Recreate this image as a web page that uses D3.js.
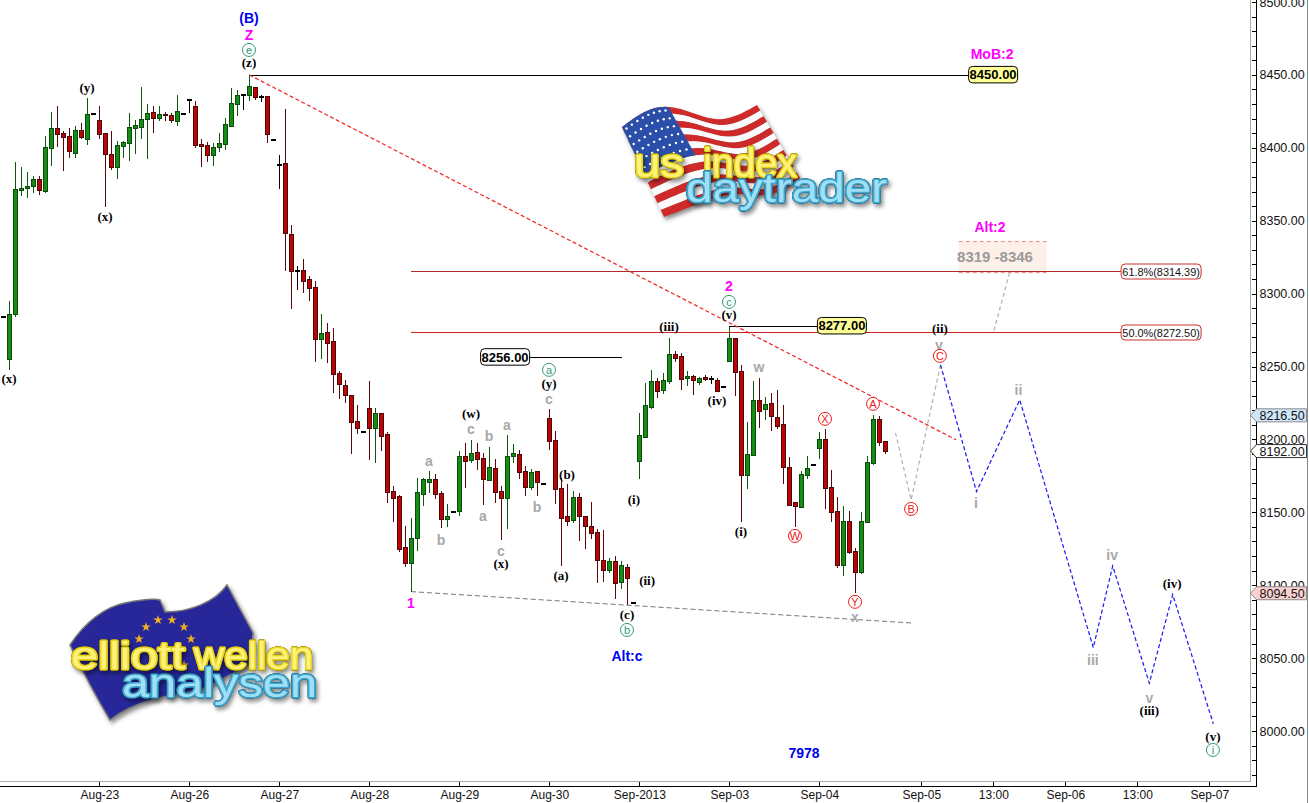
<!DOCTYPE html>
<html>
<head>
<meta charset="utf-8">
<title>Elliott wave chart</title>
<script src="https://cdn.jsdelivr.net/npm/d3@7"></script>
<style>
	html, body { margin: 0; padding: 0; background: #fff; overflow: hidden; }
	svg { display: block; }
	text { font-family: "Liberation Sans", Arial, sans-serif; }
	.wave-black { font-family: "Liberation Serif", serif; font-weight: bold; font-size: 13px; fill: #000; }
	.wave-gray { font-weight: bold; font-size: 14px; fill: #a8a8a8; }
	.wave-magenta { font-weight: bold; font-size: 14px; fill: #ff00ff; }
	.wave-blue { font-weight: bold; font-size: 14px; fill: #0000f0; }
	.logo-shadow { filter: drop-shadow(2px 3px 2px rgba(0, 0, 0, 0.45)); }
</style>
</head>
<body>
<svg id="chart" width="1309" height="803"></svg>
<script>
'use strict';

// candles, one entry per 4h bar
var opens = [
	8284.2,8255.4,8285.9,8370.8,8372.5,8373.9,8378.7,8370.4,8400.0,8413.6,
	8410.2,8408.2,8396.5,8412.3,8406.1,8423.3,8419.1,8410.2,8395.8,8386.9,
	8401.3,8403.4,8413.6,8414.3,8419.8,8424.6,8420.5,8423.3,8422.6,8418.4,
	8423.3,8432.9,8428.7,8402.7,8402.0,8395.1,8400.6,8402.7,8415.0,8430.1,
	8435.9,8436.3,8441.8,8434.9,8435.6,8405.4,8388.3,8389.6,8340.9,8315.8,
	8316.3,8310.1,8304.6,8269.1,8273.7,8267.6,8245.6,8237.4,8230.5,8212.7,
	8205.1,8221.6,8208.1,8218.2,8203.8,8164.7,8161.2,8126.3,8115.5,8132.6,
	8162.8,8171.0,8172.9,8163.3,8145.7,8150.3,8151.2,8188.7,8186.0,8191.4,
	8187.3,8172.4,8180.5,8164.7,8160.1,8188.5,8190.0,8178.4,8167.6,8178.4,
	8169.7,8214.8,8199.7,8166.7,8147.3,8145.0,8160.6,8147.3,8140.7,8136.6,
	8117.4,8110.7,8116.7,8101.8,8112.6,8087.9,8185.3,8201.9,8222.5,8240.1,
	8234.1,8240.3,8258.6,8257.3,8242.4,8243.5,8239.4,8242.9,8241.7,8240.8,
	8236.0,8253.8,8269.6,8247.0,8175.9,8189.6,8227.1,8220.9,8225.0,8215.4,
	8210.6,8181.1,8157.1,8153.9,8175.7,8182.5,8194.2,8200.4,8167.4,8151.0,
	8113.9,8144.1,8123.5,8109.1,8143.6,8183.9,8214.1,8199.0
];
var highs = [
	8284.2,8295.0,8390.3,8386.9,8383.5,8380.7,8380.7,8408.2,8424.6,8428.7,
	8411.6,8413.6,8415.0,8417.1,8434.2,8423.3,8428.7,8410.2,8411.6,8404.7,
	8404.7,8423.9,8419.1,8441.8,8430.1,8428.7,8428.7,8424.6,8423.9,8436.3,
	8423.3,8433.5,8432.2,8406.1,8404.0,8403.4,8410.2,8420.5,8441.1,8439.7,
	8437.0,8450.0,8441.8,8436.3,8435.6,8405.4,8395.1,8426.7,8347.1,8319.0,
	8323.8,8312.1,8308.7,8286.1,8279.9,8276.5,8247.0,8240.8,8230.5,8223.7,
	8205.1,8240.1,8221.6,8218.2,8205.1,8168.1,8161.9,8140.7,8146.2,8173.6,
	8173.6,8178.4,8176.3,8164.7,8155.8,8150.3,8192.1,8197.6,8199.7,8197.6,
	8190.5,8194.9,8186.4,8168.1,8203.1,8196.9,8192.6,8181.8,8179.6,8178.4,
	8169.7,8220.9,8205.8,8173.4,8169.5,8164.7,8163.1,8147.5,8157.1,8138.6,
	8137.9,8118.5,8120.1,8116.7,8114.6,8087.9,8218.0,8238.8,8247.7,8242.2,
	8245.4,8269.6,8260.5,8259.1,8247.0,8244.2,8242.7,8244.2,8243.5,8242.0,
	8236.0,8277.0,8269.8,8251.1,8212.0,8240.1,8242.2,8229.1,8231.9,8234.0,
	8223.7,8188.0,8157.1,8178.4,8188.7,8182.5,8205.1,8207.2,8179.1,8160.6,
	8154.4,8151.0,8125.6,8150.3,8188.7,8216.5,8216.1,8199.0
];
var lows = [
	8284.2,8247.7,8284.2,8367.0,8365.6,8369.1,8367.7,8369.1,8387.6,8400.6,
	8384.2,8393.1,8393.1,8406.1,8402.0,8423.3,8406.1,8359.5,8384.8,8378.7,
	8393.1,8391.0,8395.8,8406.1,8392.4,8410.2,8418.4,8418.4,8417.1,8415.0,
	8423.3,8423.9,8400.0,8386.9,8390.3,8387.6,8397.2,8398.6,8414.3,8421.9,
	8426.0,8432.2,8432.9,8431.5,8403.4,8405.4,8371.8,8315.6,8289.5,8302.5,
	8300.5,8295.2,8253.4,8255.4,8252.7,8232.1,8228.0,8225.2,8190.3,8204.0,
	8205.1,8186.1,8184.1,8192.3,8156.7,8143.6,8123.0,8112.8,8095.6,8123.7,
	8154.4,8163.5,8159.4,8139.3,8140.2,8150.3,8147.5,8166.7,8183.9,8179.1,
	8155.1,8172.0,8156.4,8131.1,8138.6,8184.1,8173.1,8161.4,8165.6,8161.4,
	8169.7,8192.8,8156.0,8113.2,8140.9,8143.0,8130.6,8124.9,8131.8,8101.8,
	8102.3,8108.2,8090.8,8097.7,8086.7,8087.9,8173.1,8201.9,8220.9,8228.5,
	8231.2,8238.3,8253.2,8234.0,8236.7,8230.5,8237.4,8240.1,8238.1,8232.8,
	8236.0,8253.2,8229.8,8143.4,8166.0,8189.6,8207.9,8213.4,8205.8,8207.2,
	8169.5,8154.4,8140.0,8153.7,8172.9,8182.5,8186.6,8152.3,8143.4,8111.9,
	8106.4,8121.5,8094.5,8107.8,8143.6,8182.5,8195.5,8190.0
];
var closes = [
	8284.2,8286.1,8371.8,8372.5,8373.9,8378.7,8371.1,8400.6,8413.6,8409.5,
	8407.5,8397.9,8412.3,8407.5,8423.3,8423.3,8409.5,8395.8,8386.9,8402.0,
	8404.0,8414.3,8415.7,8419.8,8423.9,8420.5,8423.3,8422.6,8419.1,8425.3,
	8423.3,8432.9,8402.0,8401.3,8395.1,8400.6,8403.4,8416.4,8430.8,8436.3,
	8435.9,8442.5,8434.9,8434.9,8409.5,8405.4,8388.3,8341.6,8315.6,8315.8,
	8308.9,8303.9,8268.9,8273.0,8266.4,8245.1,8238.1,8230.7,8212.2,8208.1,
	8205.1,8207.9,8218.2,8202.6,8164.2,8160.1,8125.1,8115.5,8132.4,8164.0,
	8172.9,8172.9,8162.8,8145.7,8147.5,8150.3,8188.7,8185.5,8190.7,8186.8,
	8173.1,8181.1,8164.2,8159.7,8188.7,8190.7,8177.9,8167.6,8177.7,8171.0,
	8169.7,8199.2,8166.3,8146.4,8144.1,8160.6,8147.3,8140.2,8136.0,8117.6,
	8110.7,8116.7,8101.8,8113.7,8105.2,8087.9,8203.1,8223.7,8240.1,8233.5,
	8240.8,8258.6,8255.9,8241.7,8243.5,8240.8,8242.2,8241.3,8241.7,8233.5,
	8236.0,8269.6,8246.5,8175.9,8190.0,8227.1,8219.8,8224.4,8216.3,8209.3,
	8181.4,8155.1,8154.4,8176.3,8180.5,8182.5,8200.4,8166.7,8150.5,8114.1,
	8144.1,8123.0,8109.1,8144.1,8184.6,8214.1,8198.3,8192.3
];

// axis ticks: bar index on x, price on y
var xTickBars = [16, 31, 46, 61, 76, 91, 106, 121, 136, 153, 165, 177, 189, 201];
var xTickLabels = ['Aug-23', 'Aug-26', 'Aug-27', 'Aug-28', 'Aug-29', 'Aug-30', 'Sep-2013', 'Sep-03', 'Sep-04', 'Sep-05', '13:00', 'Sep-06', '13:00', 'Sep-07'];
var yMajorTicks = [8000, 8050, 8100, 8150, 8200, 8250, 8300, 8350, 8400, 8450, 8500];
var yMinorTicks = d3.range(7970, 8510, 10);

// trend lines and forecast paths as [bar, price]
var trendRed = [[41, 8450], [158.8, 8199.7]];
var trendGray = [[67.95, 8095.6], [151.3, 8074.1]];
var forecastGray = [[148.7, 8204.5], [151.3, 8158.5], [156.2, 8251.1]];
var forecastGrayUp = [[165.1, 8274.6], [167.7, 8314.2]];
var forecastBlue = [[156.2, 8251.1], [162.2, 8164.2], [169.4, 8227.1], [181.67, 8057.2], [184.9, 8113.2], [191, 8032.8], [194.9, 8093.6], [201.67, 8004.9]];

// horizontal levels
var fibPrices = [8315.4, 8273.5];
var fibLabels = ['61.8%(8314.39)', '50.0%(8272.50)'];
var fibBars = [67.95, 186.3];
var levelLabels = ['8450.00', '8256.00', '8277.00'];
var levelPrices = [8450, 8256.4, 8277.8];
var levelStart = [41, 103.1, 121];
var levelEnd = [160.8, 87.8, 135.6];
var levelFill = ['#ffff99', '#fff', '#ffff99'];

var zoneBars = [159.25, 173.9];
var zonePrices = [8335.7, 8314.4];

// price tags on the axis
var tagPrices = [8216.5, 8192, 8094.5];
var tagFill = ['#cfe6fa', '#fff', '#fbd0d0'];
var tagStroke = ['#8a8a8a', '#333', '#8a8a8a'];

// wave labels as [text, bar, price]
var wavesBlack = [
	['(z)', 40.95, 8458.2], ['(y)', 13.95, 8441.1], ['(x)', 16.95, 8352.6], ['(x)', 0.95, 8241.5],
	['(w)', 77.95, 8217.5], ['(y)', 90.95, 8238.1], ['(x)', 82.95, 8114.6], ['(b)', 93.95, 8176.3],
	['(a)', 92.95, 8106.4], ['(c)', 103.95, 8079.6], ['(ii)', 107.3, 8103], ['(i)', 105.1, 8158.5],
	['(iii)', 110.95, 8277.2], ['(iv)', 118.95, 8226.4], ['(v)', 120.95, 8285.4], ['(i)', 122.95, 8136.6],
	['(ii)', 156.1, 8275.8], ['(iii)', 191, 8013.8], ['(iv)', 194.8, 8100.9], ['(v)', 201.6, 7996.6]
];
var wavesGray = [
	['a', 70.95, 8185.3], ['b', 72.95, 8131.1], ['c', 77.95, 8207.2], ['b', 80.95, 8202.4],
	['a', 79.95, 8147.5], ['a', 83.95, 8210], ['c', 82.95, 8123.5], ['b', 88.95, 8153.7],
	['c', 90.95, 8227.8], ['w', 125.95, 8249.7], ['x', 141.95, 8078.3], ['y', 155.95, 8264.8],
	['i', 162.1, 8156.4], ['ii', 169.2, 8234], ['iii', 181.6, 8048.8], ['iv', 184.8, 8120.8], ['v', 191, 8022.7]
];
var wavesMagenta = [['Z', 40.95, 8477.4], ['2', 120.95, 8305.3], ['1', 67.95, 8087.9], ['MoB:2', 164.8, 8464.4], ['Alt:2', 164.45, 8345.7]];
var wavesBlue = [['(B)', 40.95, 8489.1], ['Alt:c', 103.95, 8051.5], ['7978', 133.45, 7985]];
var circledGreen = [['e', 40.95, 8467.1], ['a', 90.95, 8247.7], ['b', 103.95, 8069.3], ['c', 120.95, 8294.3], ['i', 201.6, 7987]];
var circledRed = [['W', 131.95, 8133.8], ['X', 136.95, 8214.1], ['Y', 141.95, 8088.6], ['A', 144.95, 8224.4], ['B', 151.3, 8152.3], ['C', 156.1, 8257.3]];

var svg = d3.select('#chart');
var x = d3.scaleLinear().domain([0, 208]).range([3.3, 1251.3]);
var y = d3.scaleLinear().domain([8000, 8500]).range([731, 2]);

var line = d3.line()
	.x(function (d) { return x(d[0]); })
	.y(function (d) { return y(d[1]); });

function snap(v) {
	return Math.round(v) + 0.5;
}

function addDither(id, a, b) {
	var p = svg.append('defs').append('pattern')
		.attr('id', id).attr('width', 2).attr('height', 2)
		.attr('patternUnits', 'userSpaceOnUse');
	p.append('rect').attr('width', 2).attr('height', 2).attr('fill', a);
	p.append('rect').attr('width', 1).attr('height', 1).attr('fill', b);
	p.append('rect').attr('x', 1).attr('y', 1).attr('width', 1).attr('height', 1).attr('fill', b);
}
addDither('ditherGreen', '#0a9a0a', '#1f7f1f');
addDither('ditherRed', '#d00000', '#a80808');

/**
 * Frame and axes
 */
function drawFrame() {
	var frame = svg.append('g').attr('fill', 'none').attr('shape-rendering', 'crispEdges');
	frame.append('path').attr('d', 'M1250.5,0V781.5H0').attr('stroke', '#a9aea6');
	frame.append('path').attr('d', 'M1307.5,0V803').attr('stroke', '#8a8a8a');

	var minor = d3.axisLeft(y).tickValues(yMinorTicks).tickSize(5).tickFormat('');
	svg.append('g').attr('transform', 'translate(1256.5,0)').attr('shape-rendering', 'crispEdges').call(minor)
		.call(function (g) { g.select('.domain').remove(); });

	var major = d3.axisRight(y).tickValues(yMajorTicks).tickSize(0).tickPadding(3)
		.tickFormat(d3.format('.2f'));
	svg.append('g').attr('class', 'y-major').attr('transform', 'translate(1256.5,0)').call(major)
		.call(function (g) {
			g.select('.domain').remove();
			g.selectAll('text').attr('font-size', 12.5).attr('fill', '#111').attr('font-family', '"Liberation Sans", Arial, sans-serif');
		});

	var bottom = d3.axisBottom(x).tickValues(xTickBars).tickSize(-5).tickPadding(4)
		.tickFormat(function (d, i) { return xTickLabels[i]; });
	svg.append('g').attr('transform', 'translate(0,786.5)').attr('shape-rendering', 'crispEdges').call(bottom)
		.call(function (g) {
			g.select('.domain').remove();
			g.selectAll('text').attr('font-size', 12).attr('fill', '#111').attr('font-family', '"Liberation Sans", Arial, sans-serif');
		});

	frame.append('path').attr('d', 'M1256.5,0V786.5H0').attr('stroke', '#000');
}

/**
 * The logos are plain pictures in the source, rebuilt here from shapes
 */
function logoText(g, label, px, py, size, len, outer, mid, inner) {
	g.append('text').attr('x', px).attr('y', py)
		.attr('font-family', 'Lato, sans-serif').attr('font-weight', 300).attr('font-size', size)
		.attr('textLength', len).attr('lengthAdjust', 'spacingAndGlyphs')
		.attr('fill', inner).attr('stroke', mid).attr('stroke-width', 3)
		.attr('stroke-linejoin', 'round').attr('paint-order', 'stroke')
		.style('filter', 'drop-shadow(0 0 0.7px ' + outer + ') drop-shadow(0 0 0.5px ' + outer + ') drop-shadow(2px 3px 2px rgba(0, 0, 0, 0.45))')
		.text(label);
}

function lerp(a, b, t) {
	return [a[0] + (b[0] - a[0]) * t, a[1] + (b[1] - a[1]) * t];
}

function edgeFn(edge) {
	var ex = d3.interpolateBasis(edge.map(function (p) { return p[0]; }));
	var ey = d3.interpolateBasis(edge.map(function (p) { return p[1]; }));
	return function (u) { return [ex(u), ey(u)]; };
}

function drawUsLogo() {
	var g = svg.append('g');
	var top = edgeFn([[622, 127], [650, 106], [680, 106], [720, 126], [757, 105]]);
	var bot = edgeFn([[664, 217], [695, 205], [735, 190], [770, 200], [800, 178]]);
	var curve = d3.line();
	function band(u0, u1, v0, v1) {
		var pts = [], us = d3.range(0, 41).map(function (i) { return u0 + (u1 - u0) * i / 40; });
		us.forEach(function (u) { pts.push(lerp(top(u), bot(u), v0)); });
		us.reverse().forEach(function (u) { pts.push(lerp(top(u), bot(u), v1)); });
		return curve(pts) + 'Z';
	}
	var flag = g.append('g').attr('class', 'logo-shadow');
	d3.range(13).forEach(function (i) {
		flag.append('path').attr('d', band(0, 1, i / 13, (i + 1) / 13))
			.attr('fill', i % 2 ? '#fbfbfb' : '#cf2a2a');
	});
	flag.append('path').attr('d', band(0, 0.4, 0, 7 / 13)).attr('fill', '#2b4fa8');
	d3.range(8).forEach(function (a) {
		d3.range(6).forEach(function (b) {
			var u = 0.025 + a * 0.048;
			var p = lerp(top(u), bot(u), 0.04 + b * 0.085);
			flag.append('circle').attr('cx', p[0]).attr('cy', p[1]).attr('r', 1.2).attr('fill', '#fff');
		});
	});
	logoText(g, 'us', 634, 177, 40, 50, '#6f6200', '#e8d420', '#fff27a');
	logoText(g, 'index', 703, 177, 40, 94, '#6f6200', '#e8d420', '#fff27a');
	logoText(g, 'daytrader', 686, 202, 40, 201, '#12506e', '#3ea6d0', '#a0e0f4');
}

function drawEuLogo() {
	var g = svg.append('g');
	var d = 'M70,645C85,622 105,607 125,603C140,600 152,598 160,600L165,612C190,612 215,602 227,585'
		+ 'C235,600 245,618 253,633L250,665L200,690C170,695 135,700 110,720C95,695 82,670 70,645Z';
	g.append('path').attr('d', d).attr('class', 'logo-shadow')
		.attr('fill', '#27279a').attr('stroke', '#777').attr('stroke-width', 1.5);
	var star = d3.symbol().type(d3.symbolStar).size(28);
	[[146, 627], [158, 620], [172, 620], [184, 627], [191, 639], [139, 639], [184, 665]].forEach(function (s) {
		g.append('path').attr('d', star()).attr('transform', 'translate(' + s[0] + ',' + s[1] + ')').attr('fill', '#f0b020');
	});
	logoText(g, 'elliott', 71, 669, 38, 114, '#6f6200', '#e8d420', '#fff27a');
	logoText(g, 'wellen', 194, 669, 38, 119, '#6f6200', '#e8d420', '#fff27a');
	logoText(g, 'analysen', 122, 697, 40, 195, '#12506e', '#3ea6d0', '#a0e0f4');
}

/**
 * Candles. A bar with open == close comes out black.
 */
function drawCandles() {
	var bars = d3.range(opens.length).map(function (i) {
		return { i: i, o: opens[i], h: highs[i], l: lows[i], c: closes[i] };
	});
	function colour(d, green, red, flat) {
		return d.o === d.c ? flat : (d.c > d.o ? green : red);
	}
	function cx(d) {
		return Math.floor(x(d.i)) + 0.5;
	}
	var g = svg.append('g').attr('shape-rendering', 'crispEdges');
	g.selectAll('line.wick').data(bars.filter(function (d) { return d.h !== d.l; }))
		.enter().append('line').attr('class', 'wick')
		.attr('x1', cx).attr('x2', cx)
		.attr('y1', function (d) { return y(d.h); })
		.attr('y2', function (d) { return y(d.l); })
		.attr('stroke', function (d) { return colour(d, '#0a5a0a', '#5a0808', '#000'); });
	g.selectAll('rect.body').data(bars.filter(function (d) { return d.o !== d.c; }))
		.enter().append('rect').attr('class', 'body')
		.attr('x', function (d) { return cx(d) - 2; })
		.attr('width', 4)
		.attr('y', function (d) { return snap(y(Math.max(d.o, d.c))); })
		.attr('height', function (d) { return Math.max(1, Math.abs(y(d.o) - y(d.c))); })
		.attr('fill', function (d) { return colour(d, 'url(#ditherGreen)', 'url(#ditherRed)', '#000'); })
		.attr('stroke', function (d) { return colour(d, '#0a4a0a', '#4a0808', '#000'); });
	g.selectAll('rect.flat').data(bars.filter(function (d) { return d.o === d.c; }))
		.enter().append('rect').attr('class', 'flat')
		.attr('x', function (d) { return cx(d) - 2.5; })
		.attr('width', 5).attr('height', 2)
		.attr('y', function (d) { return Math.round(y(d.o)) - 1; })
		.attr('fill', '#000');
}

/**
 * Trend lines, forecast paths, zone and levels
 */
function drawOverlays() {
	var z = svg.append('g');
	z.append('rect')
		.attr('x', x(zoneBars[0])).attr('width', x(zoneBars[1]) - x(zoneBars[0]))
		.attr('y', y(zonePrices[0])).attr('height', y(zonePrices[1]) - y(zonePrices[0]))
		.attr('fill', '#fdf0e8');
	zonePrices.forEach(function (p) {
		z.append('line').attr('x1', x(zoneBars[0])).attr('x2', x(zoneBars[1]))
			.attr('y1', y(p)).attr('y2', y(p))
			.attr('stroke', '#f08a80').attr('stroke-dasharray', '4,3');
	});

	fibPrices.forEach(function (p, i) {
		svg.append('line').attr('x1', x(fibBars[0])).attr('x2', x(fibBars[1]))
			.attr('y1', snap(y(p))).attr('y2', snap(y(p)))
			.attr('stroke', i === 0 ? '#b02a2a' : '#d02020').attr('shape-rendering', 'crispEdges');
	});

	levelPrices.forEach(function (p, i) {
		svg.append('line').attr('x1', x(levelStart[i])).attr('x2', x(levelEnd[i]))
			.attr('y1', snap(y(p))).attr('y2', snap(y(p)))
			.attr('stroke', '#000').attr('shape-rendering', 'crispEdges');
	});
	// stem from the 8277 level down to its candle
	svg.append('line').attr('x1', Math.floor(x(121)) + 0.5).attr('x2', Math.floor(x(121)) + 0.5)
		.attr('y1', snap(y(levelPrices[2]))).attr('y2', y(8269.6))
		.attr('stroke', '#0a5a0a').attr('shape-rendering', 'crispEdges');

	svg.append('path').attr('d', line(trendRed)).attr('fill', 'none')
		.attr('stroke', '#f02020').attr('stroke-width', 1.2).attr('stroke-dasharray', '4,2.5');
	svg.append('path').attr('d', line(trendGray)).attr('fill', 'none')
		.attr('stroke', '#777').attr('stroke-dasharray', '5,3');
	[forecastGray, forecastGrayUp].forEach(function (pts) {
		svg.append('path').attr('d', line(pts)).attr('fill', 'none')
			.attr('stroke', '#b0b0b0').attr('stroke-width', 1.2).attr('stroke-dasharray', '4,3');
	});
	svg.append('path').attr('d', line(forecastBlue)).attr('fill', 'none')
		.attr('stroke', '#1818f0').attr('stroke-width', 1.2).attr('stroke-dasharray', '4,2.5');

	svg.append('text').attr('x', 995).attr('y', y(8325)).attr('dy', '0.35em').attr('text-anchor', 'middle')
		.attr('font-weight', 'bold').attr('font-size', 15).attr('fill', '#9a9a9a').text('8319 -8346');
}

function drawLabels() {
	// value boxes on the black levels
	levelLabels.forEach(function (t, i) {
		var left = i === 1 ? x(levelEnd[i]) - 50 : x(levelEnd[i]);
		var g = svg.append('g').attr('transform', 'translate(' + left + ',' + y(levelPrices[i]) + ')');
		g.append('rect').attr('x', 0.5).attr('y', -8.5).attr('width', 49).attr('height', 16.5).attr('rx', 4)
			.attr('fill', levelFill[i]).attr('stroke', '#000');
		g.append('text').attr('x', 25).attr('y', 4.5).attr('text-anchor', 'middle')
			.attr('font-size', 13).attr('font-weight', 'bold').attr('fill', '#000').text(t);
	});

	// fib boxes
	fibPrices.forEach(function (p, i) {
		var g = svg.append('g').attr('transform', 'translate(' + x(fibBars[1]) + ',' + snap(y(p)) + ')');
		g.append('rect').attr('x', 0).attr('y', -7.5).attr('width', 80).attr('height', 15).attr('rx', 4)
			.attr('fill', '#fff').attr('stroke', '#c83030');
		g.append('text').attr('x', 40).attr('y', 4).attr('text-anchor', 'middle')
			.attr('font-size', 10.9).attr('fill', '#111').text(fibLabels[i]);
	});

	// price tags on the axis
	tagPrices.forEach(function (p, i) {
		var g = svg.append('g').attr('transform', 'translate(1250.5,' + y(p) + ')');
		g.append('path').attr('d', 'M0,0L6,-6.5H56V6.5H6Z')
			.attr('fill', tagFill[i]).attr('stroke', tagStroke[i]);
		g.append('text').attr('x', 9).attr('y', 4.5)
			.attr('font-size', 12.5).attr('fill', '#111').text(d3.format('.2f')(p));
	});

	function place(list, cls) {
		svg.append('g').selectAll('text').data(list).enter().append('text')
			.attr('class', cls).attr('text-anchor', 'middle').attr('dy', '0.35em')
			.attr('x', function (d) { return x(d[1]); })
			.attr('y', function (d) { return y(d[2]); })
			.text(function (d) { return d[0]; });
	}
	place(wavesGray, 'wave-gray');
	place(wavesBlack, 'wave-black');
	place(wavesMagenta, 'wave-magenta');
	place(wavesBlue, 'wave-blue');

	function circled(list, colour) {
		var g = svg.append('g').selectAll('g').data(list).enter().append('g')
			.attr('transform', function (d) { return 'translate(' + x(d[1]) + ',' + y(d[2]) + ')'; });
		g.append('circle').attr('r', 6.5).attr('fill', '#fff').attr('stroke', colour);
		g.append('text').attr('text-anchor', 'middle').attr('dy', '0.35em')
			.attr('font-size', 11).attr('fill', colour)
			.text(function (d) { return d[0]; });
	}
	circled(circledGreen, '#2e9a72');
	circled(circledRed, '#f01818');
}

drawFrame();
drawUsLogo();
drawEuLogo();
drawOverlays();
drawCandles();
drawLabels();
</script>
</body>
</html>
